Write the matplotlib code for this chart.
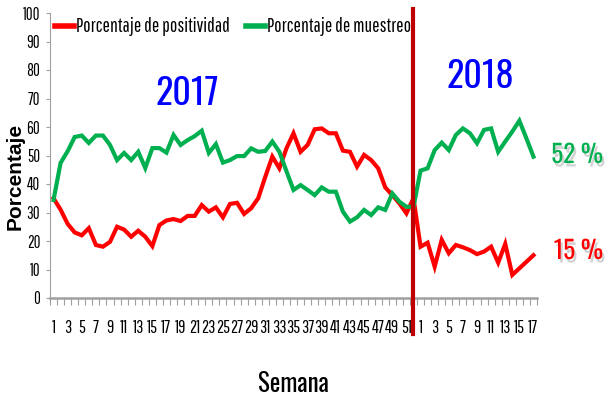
import matplotlib
matplotlib.use("Agg")
from matplotlib import pyplot as plt
from matplotlib.lines import Line2D
import matplotlib.patheffects as pe
import numpy as np

THIN = ['Pathway Gothic One', 'DejaVu Sans']
BOLDC = ['Oswald', 'DejaVu Sans']

# Semanas: 52 de 2017 + 17 de 2018
weeks_2017 = list(range(1, 53))
weeks_2018 = list(range(1, 18))

positividad = [35, 31, 26, 23, 22, 24.5, 18.6, 18, 19.7, 25, 24, 21.5, 23.6, 21.5, 18.2, 25.6,
               27.2, 27.7, 27, 28.8, 28.8, 32.6, 30.3, 31.8, 28.3, 33, 33.4, 29.5, 31.5, 35,
               42.5, 49.6, 45.5, 52.5, 57.8, 51.3, 53.7, 59.2, 59.5, 57.8, 57.8, 51.7, 51.3,
               46.1, 50.2, 48.4, 45.5, 38.8, 36.1, 33.2, 29.7, 35,
               18, 19.4, 11, 20.4, 15.7, 18.6, 17.8, 16.8, 15.4, 16.3, 18, 12.4, 19, 8.1,
               10.4, 12.7, 15]
muestreo = [34.4, 47.4, 51.5, 56.5, 57, 54.4, 57, 57, 53.7, 48.4, 50.9, 48.4, 51.3, 45.6, 52.6,
            52.6, 51, 57.2, 53.7, 55.4, 56.8, 58.7, 50.9, 54, 47.5, 48.4, 49.8, 49.8, 52.5,
            51.3, 51.6, 54.9, 51.3, 44.5, 37.9, 39.6, 37.9, 36.1, 38.8, 37.3, 37.3, 30.3,
            26.8, 28.3, 30.9, 29.1, 31.8, 30.9, 36.7, 33.8, 32, 32,
            44.7, 45.5, 51.9, 54.5, 51.9, 57.2, 59.5, 57.8, 54.3, 59, 59.5, 51.3, 54.9,
            58.4, 62.2, 56, 49.6]

week_labels = [str(w) for w in weeks_2017 + weeks_2018]
x = np.arange(1, len(week_labels) + 1)

red = '#FF0000'
green = '#00B050'

fig = plt.figure(figsize=(6.06, 4.08), dpi=100)
ax = fig.add_axes([50 / 606, 1 - 298 / 408, 487 / 606, 285 / 408])

ax.plot(x, positividad, color=red, lw=3, solid_joinstyle='miter')
ax.plot(x, muestreo, color=green, lw=3, solid_joinstyle='miter')

# separador de año
ax.plot([52, 52], [-12.5, 101.5], color='#C00000', lw=3, clip_on=False, zorder=5)

ax.set_xlim(0.5, len(x) + 0.5)
ax.set_ylim(0, 100)

ax.set_xticks(x[::2])
ax.set_xticklabels(week_labels[::2], fontsize=13, family=THIN)
ax.set_xticks(np.arange(0.5, len(x) + 1), minor=True)
ax.tick_params(axis='x', which='major', length=0, pad=16)
ax.tick_params(axis='x', which='minor', length=5, color='#A0A0A0', width=0.8)

ax.set_yticks(range(0, 101, 10))
ax.set_yticklabels([str(v) for v in range(0, 101, 10)], fontsize=12, family=THIN)
ax.tick_params(axis='y', length=3, color='#A0A0A0', width=0.8, pad=4)

for s in ['top', 'right']:
    ax.spines[s].set_visible(False)
ax.spines['left'].set_color('#A0A0A0')
ax.spines['bottom'].set_color('#A0A0A0')
ax.spines['bottom'].set_linewidth(1.8)

ax.set_ylabel('Porcentaje', fontsize=15, fontweight='bold', family=['Liberation Sans', 'DejaVu Sans'],
              va='center')
ax.yaxis.set_label_coords(-35 / 487, (298 - 176) / 285)
ax.set_xlabel('Semana', fontsize=18, fontweight='bold', family=BOLDC, va='center')
ax.xaxis.set_label_coords(0.5, -(384 - 298) / 285)

ax.text(20, 71.5, '2017', color='#0000FF', fontsize=26, fontweight='bold',
        family=BOLDC, ha='center', va='center')
ax.text(61.5, 77.5, '2018', color='#0000FF', fontsize=26, fontweight='bold',
        family=BOLDC, ha='center', va='center')

shadow = [pe.withSimplePatchShadow(offset=(1.5, -2.5), shadow_rgbFace='#808080', alpha=0.35)]
fig.text(603 / 606, 1 - 155 / 408, '52 %', color=green, fontsize=18, fontweight='bold',
         family=BOLDC, ha='right', va='center', path_effects=shadow)
fig.text(603 / 606, 1 - 251 / 408, '15 %', color=red, fontsize=18, fontweight='bold',
         family=BOLDC, ha='right', va='center', path_effects=shadow)

handles = [Line2D([], [], color=red, lw=4), Line2D([], [], color=green, lw=4)]
fig.legend(handles, ['Porcentaje de positividad', 'Porcentaje de muestreo'],
           loc='center left', bbox_to_anchor=(55 / 606, 1 - 27 / 408), ncol=2,
           frameon=False, handlelength=1.0, handletextpad=0.1, columnspacing=0.8,
           prop={'family': THIN, 'size': 14}, borderaxespad=0, borderpad=0)

fig.savefig('out.png', dpi=100)
